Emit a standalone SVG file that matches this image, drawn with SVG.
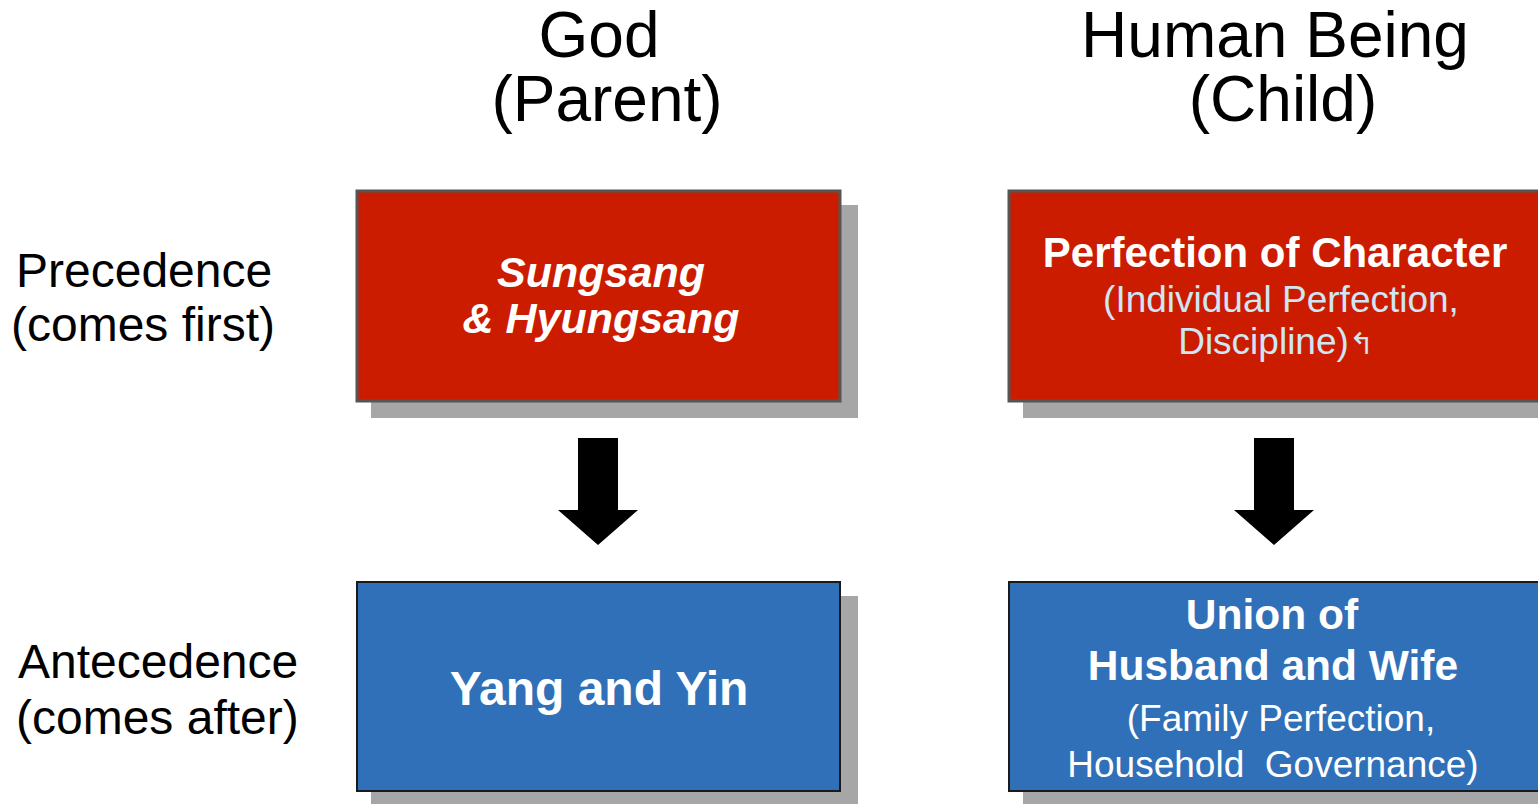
<svg xmlns="http://www.w3.org/2000/svg" width="1538" height="804" viewBox="0 0 1538 804">
<style>
text{font-family:"Liberation Sans",Arial,sans-serif;}
.hd{font-size:64px;fill:#000;text-anchor:middle;}
.side{font-size:48px;fill:#000;}
.shadow{fill:#a6a6a6;}
.red{fill:#cc1c00;stroke:#555;stroke-width:3;}
.blue{fill:#3070b8;stroke:#1a1a1a;stroke-width:2;}
.bt{fill:#fff;font-weight:bold;text-anchor:middle;}
.lt{fill:#cfe6f5;text-anchor:middle;font-size:37px;}
.wt{fill:#fff;text-anchor:middle;font-size:37px;}
.arrow{fill:#000;}
</style>
<g id="headers">
<text class="hd" x="599" y="57">God</text>
<text class="hd" x="607" y="121">(Parent)</text>
<text class="hd" x="1275" y="57">Human Being</text>
<text class="hd" x="1283" y="121">(Child)</text>
</g>
<g id="rowlabels">
<text class="side" x="16" y="287">Precedence</text>
<text class="side" x="11" y="341">(comes first)</text>
<text class="side" x="18" y="678">Antecedence</text>
<text class="side" x="16" y="734">(comes after)</text>
</g>
<g id="node-sungsang">
<rect class="shadow" x="371" y="205" width="487" height="213"/>
<rect class="red" x="357" y="191" width="483" height="210"/>
<text class="bt" x="601" y="287" font-size="43" font-style="italic">Sungsang</text>
<text class="bt" x="601" y="333" font-size="43" font-style="italic">&amp; Hyungsang</text>
</g>
<g id="node-character">
<rect class="shadow" x="1023" y="205" width="530" height="213"/>
<rect class="red" x="1009" y="191" width="540" height="210"/>
<text class="bt" x="1275" y="267" font-size="42">Perfection of Character</text>
<text class="lt" x="1281" y="312">(Individual Perfection,</text>
<text class="lt" x="1276" y="354">Discipline)<tspan font-size="30" font-weight="100">↰</tspan></text>
</g>
<g id="node-yangyin">
<rect class="shadow" x="371" y="596" width="487" height="215"/>
<rect class="blue" x="357" y="582" width="483" height="209"/>
<text class="bt" x="599" y="705" font-size="48">Yang and Yin</text>
</g>
<g id="node-union">
<rect class="shadow" x="1023" y="596" width="530" height="215"/>
<rect class="blue" x="1009" y="582" width="540" height="209"/>
<text class="bt" x="1272" y="629" font-size="42.5">Union of</text>
<text class="bt" x="1273" y="680" font-size="42.5">Husband and Wife</text>
<text class="wt" x="1281" y="731">(Family Perfection,</text>
<text class="wt" x="1273" y="777" xml:space="preserve">Household  Governance)</text>
</g>
<g id="connectors">
<polygon class="arrow" points="578,438 618,438 618,510 638,510 598,545 558,510 578,510"/>
<polygon class="arrow" points="1254,438 1294,438 1294,510 1314,510 1274,545 1234,510 1254,510"/>
</g>
</svg>
